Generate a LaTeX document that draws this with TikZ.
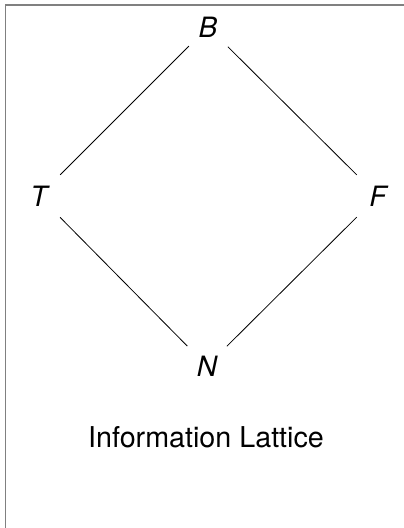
\documentclass[tikz,border=0pt]{standalone}
\usepackage{fontspec}
\setmainfont{TeX Gyre Heros}
\begin{document}
\begin{tikzpicture}[x=1pt,y=-1pt,
  elem/.style={inner sep=0pt,font=\fontsize{28}{32}\selectfont\itshape},
  edge/.style={line width=0.8pt},
  frameline/.style={draw=black!50,line width=1.8pt}]
\useasboundingbox (0,0) rectangle (404,528);
\draw[frameline] (5.5,528) -- (5.5,5) -- (404,5);
\node[elem] (B) at (208,27) {B};
\node[elem] (T) at (39,196) {T};
\node[elem] (F) at (378,196) {F};
\node[elem] (N) at (207,366) {N};
\node[inner sep=0pt,font=\fontsize{28.7}{32}\selectfont] (L) at (206,437) {Information Lattice};
\draw[edge,shorten <=27pt,shorten >=30pt] (B.center) -- (T.center);
\draw[edge,shorten <=28pt,shorten >=30pt] (B.center) -- (F.center);
\draw[edge,shorten <=30pt,shorten >=28pt] (T.center) -- (N.center);
\draw[edge,shorten <=30pt,shorten >=28pt] (F.center) -- (N.center);
\end{tikzpicture}
\end{document}
